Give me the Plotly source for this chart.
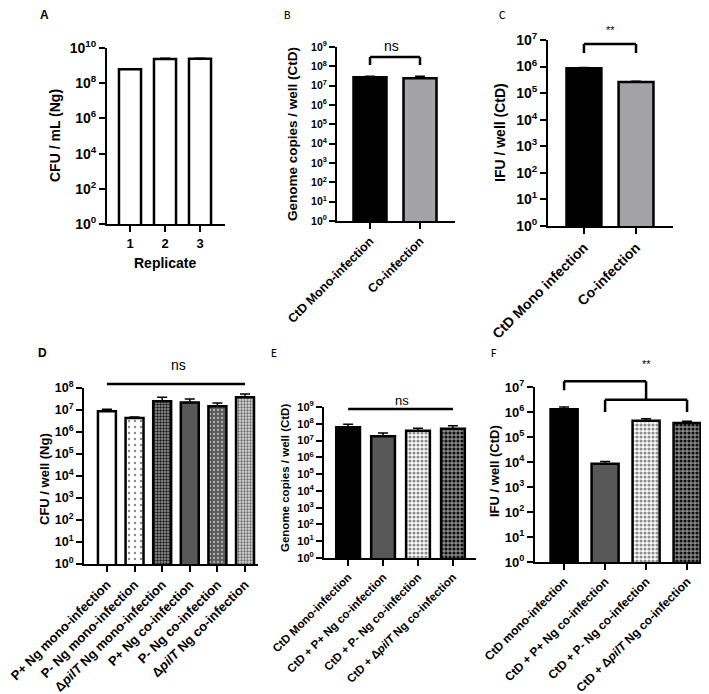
import plotly.graph_objects as go

W, H = 709, 694
FONT = "Arial, Liberation Sans, sans-serif"

# ---------------- data ----------------
a_cats = ["1", "2", "3"]
a_vals = [6.2e8, 2.4e9, 2.45e9]
a_err = [0.5e8, 2e8, 2e8]

b_cats = ["CtD Mono-infection", "Co-infection"]
b_vals = [2.7e7, 2.4e7]
b_err = [4e6, 7e6]

c_cats = ["CtD Mono infection", "Co-infection"]
c_vals = [8.7e5, 2.6e5]
c_err = [5e4, 2e4]

d_cats = ["P+ Ng mono-infection", "P- Ng mono-infection", "Δ<i>pilT</i> Ng mono-infection",
          "P+ Ng co-infection", "P- Ng co-infection", "Δ<i>pilT</i> Ng co-infection"]
d_vals = [8.7e6, 4.3e6, 2.5e7, 2.2e7, 1.5e7, 3.8e7]
d_err = [2e6, 0.5e6, 1.3e7, 1e7, 6e6, 1.6e7]

e_cats = ["CtD Mono-infection", "CtD + P+ Ng co-infection", "CtD + P- Ng co-infection",
          "CtD + Δ<i>pilT</i> Ng co-infection"]
e_vals = [6.3e7, 1.8e7, 3.8e7, 5.0e7]
e_err = [3.2e7, 1e7, 1.7e7, 2.5e7]

f_cats = ["CtD mono-infection", "CtD + P+ Ng co-infection", "CtD + P- Ng co-infection",
          "CtD + Δ<i>pilT</i> Ng co-infection"]
f_vals = [1.3e6, 8.5e3, 4.5e5, 3.6e5]
f_err = [3e5, 2e3, 9e4, 7e4]

# ---------------- panel geometry (pixels) ----------------
panels = {
    1: dict(l=99, r=217, t=40, b=216, xr=[-0.657, 2.714], yexp=10, step=2, bw=0.63, yfs=14, xfs=13, ang=0),
    2: dict(l=329, r=447, t=39, b=213, xr=[-0.66, 1.70], yexp=9, step=1, bw=0.66, yfs=10.5, xfs=12.5, ang=-45),
    3: dict(l=540, r=665, t=32, b=218, xr=[-0.69, 1.71], yexp=7, step=1, bw=0.67, yfs=14, xfs=14, ang=-45),
    4: dict(l=76, r=250, t=380, b=556, xr=[-0.83, 5.47], yexp=8, step=1, bw=0.65, yfs=12.5, xfs=13, ang=-45),
    5: dict(l=316, r=468, t=399, b=550, xr=[-0.69, 3.66], yexp=9, step=1, bw=0.68, yfs=11, xfs=11.5, ang=-45),
    6: dict(l=527, r=709, t=379, b=554, xr=[-0.71, 3.73], yexp=7, step=1, bw=0.66, yfs=13, xfs=12, ang=-45),
}
cats_by_panel = {1: a_cats, 2: b_cats, 3: c_cats, 4: d_cats, 5: e_cats, 6: f_cats}

# bar styles: (background colour, pattern shape, pattern colour, pattern size, solidity)
WHITE = ("white", "", None, None, None)
BLACK = ("black", "", None, None, None)
DGREY = ("#575757", "", None, None, None)
LGREY = ("#a3a3a6", "", None, None, None)
LCHECK = ("white", ".", "#8c8c8c", 4, 0.5)
DCHECK = ("#8a8a8a", ".", "#111111", 4, 0.5)

styles = {
    1: [WHITE, WHITE, WHITE],
    2: [BLACK, LGREY],
    3: [BLACK, LGREY],
    4: [WHITE, ("white", ".", "#8a8a8a", 6, 0.12), ("#9a9a9a", ".", "#1a1a1a", 3, 0.5),
        DGREY, ("#5a5a5a", ".", "#b0b0b0", 4, 0.25), ("#d8d8d8", ".", "#6a6a6a", 3, 0.45)],
    5: [BLACK, DGREY, LCHECK, DCHECK],
    6: [BLACK, DGREY, LCHECK, DCHECK],
}

fig = go.Figure()


def add_bars(i, cats, vals, err):
    p = panels[i]
    for k, (c, v, e) in enumerate(zip(cats, vals, err)):
        bg, shp, fg, sz, so = styles[i][k]
        marker = dict(color=bg, line=dict(color="black", width=2.5))
        if shp:
            marker["pattern"] = dict(shape=shp, fillmode="overlay", fgcolor=fg, bgcolor=bg,
                                     size=sz, solidity=so, fgopacity=1)
        fig.add_trace(go.Bar(
            x=[c], y=[v], width=p["bw"], marker=marker,
            error_y=dict(type="data", array=[e], arrayminus=[0], symmetric=False,
                         color="black", thickness=1.5, width=5),
            xaxis="x" if i == 1 else f"x{i}", yaxis="y" if i == 1 else f"y{i}",
            showlegend=False, hoverinfo="skip"))


add_bars(1, a_cats, a_vals, a_err)
add_bars(2, b_cats, b_vals, b_err)
add_bars(3, c_cats, c_vals, c_err)
add_bars(4, d_cats, d_vals, d_err)
add_bars(5, e_cats, e_vals, e_err)
add_bars(6, f_cats, f_vals, f_err)

layout = dict(template="none", width=W, height=H,
              margin=dict(l=0, r=0, t=0, b=0, autoexpand=False),
              paper_bgcolor="white", plot_bgcolor="white", barmode="overlay", showlegend=False,
              font=dict(family=FONT, color="black"))

for i, p in panels.items():
    xs = "xaxis" if i == 1 else f"xaxis{i}"
    ys = "yaxis" if i == 1 else f"yaxis{i}"
    xa = "x" if i == 1 else f"x{i}"
    ya = "y" if i == 1 else f"y{i}"
    exps = list(range(0, p["yexp"] + 1, p["step"]))
    cats = cats_by_panel[i]
    layout[xs] = dict(domain=[p["l"] / W, p["r"] / W], anchor=ya, type="category",
                      categoryorder="array", categoryarray=cats,
                      range=p["xr"], showline=True, linecolor="black", linewidth=2,
                      ticks="outside", ticklen=6, tickwidth=2, tickcolor="black",
                      showgrid=False, zeroline=False, tickangle=p["ang"], automargin=False,
                      tickmode="array", tickvals=cats, ticktext=[f"<b>{c}</b>" for c in cats],
                      tickfont=dict(family=FONT, size=p["xfs"], color="black"), fixedrange=True)
    layout[ys] = dict(domain=[1 - p["b"] / H, 1 - p["t"] / H], anchor=xa, type="log",
                      range=[0, p["yexp"]], showline=True, linecolor="black", linewidth=2,
                      ticks="outside", ticklen=6, tickwidth=2, tickcolor="black",
                      showgrid=False, zeroline=False, tickmode="array", automargin=False,
                      tickvals=[10 ** k for k in exps],
                      ticktext=[f"<b>10<sup>{k}</sup></b>" for k in exps],
                      tickfont=dict(family=FONT, size=p["yfs"], color="black"), fixedrange=True)

fig.update_layout(**layout)


def xd(i, idx):
    r = panels[i]["xr"]
    return (idx - r[0]) / (r[1] - r[0])


def yd(i, py):
    p = panels[i]
    return (p["b"] - py) / (p["b"] - p["t"])


def seg(i, x0, y0, x1, y1):
    xa = "x" if i == 1 else f"x{i}"
    ya = "y" if i == 1 else f"y{i}"
    fig.add_shape(type="line", xref=f"{xa} domain", yref=f"{ya} domain",
                  x0=xd(i, x0), x1=xd(i, x1), y0=yd(i, y0), y1=yd(i, y1),
                  line=dict(color="black", width=2.5))


# B bracket
seg(2, 0, 49, 1, 49); seg(2, 0, 49, 0, 57); seg(2, 1, 49, 1, 57)
# C bracket
seg(3, 0, 36, 1, 36); seg(3, 0, 36, 0, 45); seg(3, 1, 36, 1, 45)
# D line
seg(4, 0, 376, 5, 376)
# E line
seg(5, 0, 401, 3, 401)
# F brackets
seg(6, 0, 373.3, 2, 373.3); seg(6, 0, 373.3, 0, 382.3); seg(6, 2, 373.3, 2, 391.7)
seg(6, 1, 391.7, 3, 391.7); seg(6, 1, 391.7, 1, 404); seg(6, 3, 391.7, 3, 404)


def ann(text, px, py, size, bold=False, angle=0, family=FONT):
    fig.add_annotation(text=f"<b>{text}</b>" if bold else text, x=px / W, y=1 - py / H,
                       xref="paper", yref="paper",
                       showarrow=False, xanchor="center", yanchor="middle", textangle=angle,
                       font=dict(family=family, size=size, color="black"))


CAL = "Carlito, Liberation Sans, sans-serif"
# panel letters
ann("A", 36, 7, 12, bold=True)
ann("B", 279, 7, 12, family=CAL)
ann("C", 494, 7, 12, family=CAL)
ann("D", 34, 345, 12, bold=True)
ann("E", 266, 345, 12, family=CAL)
ann("F", 486, 345, 12, family=CAL)

# axis titles
ann("CFU / mL (Ng)", 47, 127, 14, bold=True, angle=-90)
ann("Replicate", 157, 255, 14, bold=True)
ann("Genome copies / well (CtD)", 285, 126, 13.5, bold=True, angle=-90)
ann("IFU / well (CtD)", 492, 125, 14, bold=True, angle=-90)
ann("CFU / well (Ng)", 36, 471, 13, bold=True, angle=-90)
ann("Genome copies / well (CtD)", 277, 470, 11.5, bold=True, angle=-90)
ann("IFU / well (CtD)", 486, 463, 13, bold=True, angle=-90)

# significance labels
ann("ns", 383, 38, 14)
ann("**", 602, 22, 11)
ann("ns", 170, 357, 14)
ann("ns", 394, 392, 13)
ann("**", 638, 356, 11)

fig.write_html("out.html")
